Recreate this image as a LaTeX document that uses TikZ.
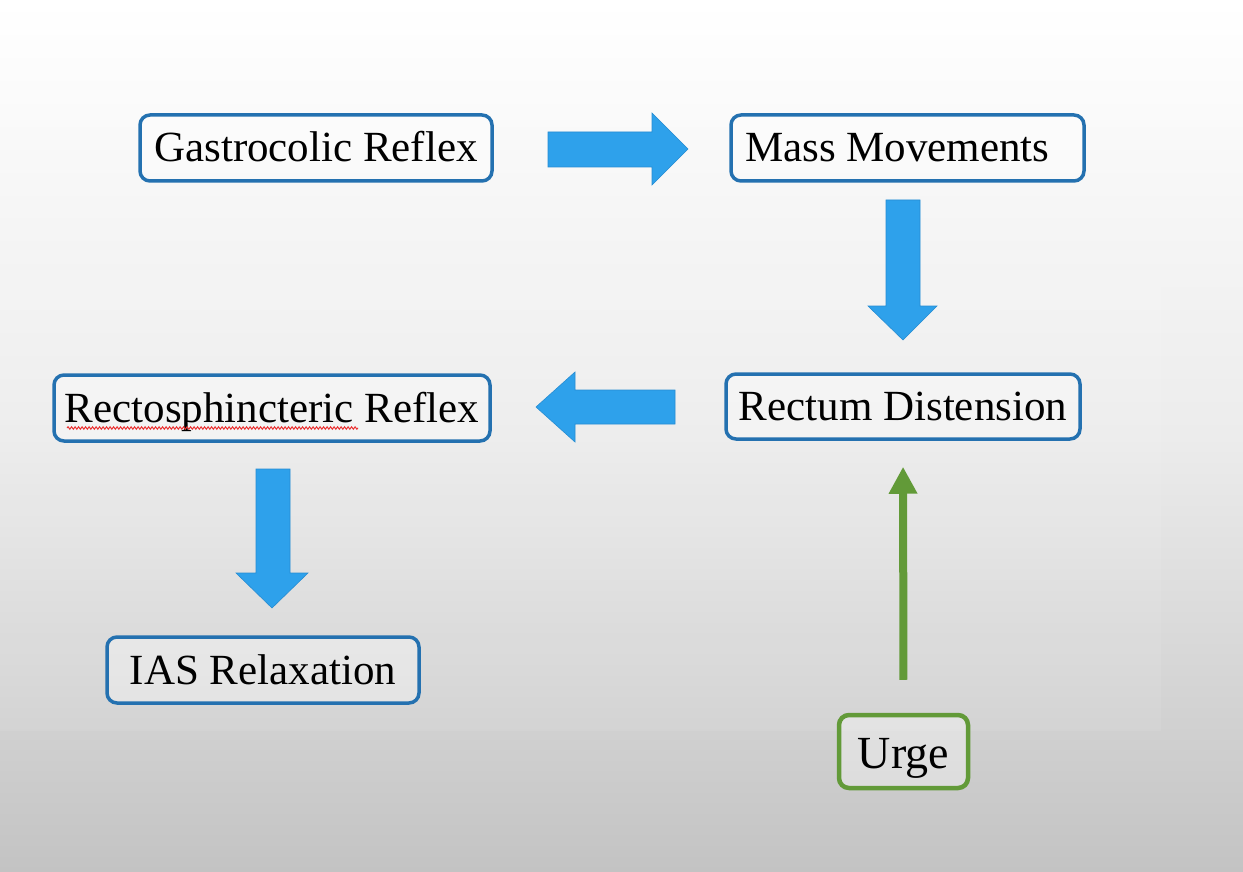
\documentclass[tikz,border=0pt]{standalone}
\usepackage{fontspec}
\setmainfont{Liberation Serif}
\usetikzlibrary{arrows.meta,decorations.pathmorphing}
\definecolor{boxblue}{RGB}{36,113,176}
\definecolor{arrowblue}{RGB}{46,161,235}
\definecolor{arrowedge}{RGB}{38,140,210}
\definecolor{urgegreen}{RGB}{98,154,56}
\definecolor{bgmid}{RGB}{236,236,236}
\definecolor{bgbot}{RGB}{195,195,195}
\definecolor{squig}{RGB}{235,50,50}
\begin{document}
\begin{tikzpicture}[x=1pt,y=-1pt,
  stepbox/.style={draw=boxblue, line width=3.5pt, rounded corners=10pt,
    fill=white, fill opacity=0.35, text opacity=1, inner sep=0pt,
    font=\fontsize{43}{50}\selectfont, minimum height=66pt,
    text height=35pt, text depth=7pt},
  urgebox/.style={stepbox, draw=urgegreen, line width=4.5pt, font=\fontsize{46}{52}\selectfont,
    text height=36pt, text depth=3pt},
  blockarrow/.style={fill=arrowblue, draw=arrowedge, line width=0.6pt, line join=miter},
  greenarrow/.style={draw=urgegreen, line width=8pt, -{Triangle[width=27pt,length=27pt]}}]
% background
\shade[top color=white, bottom color=bgmid, shading angle=0] (0,0) rectangle (1243,436);
\shade[top color=bgmid, bottom color=bgbot] (0,436) rectangle (1243,872);
\fill[white, opacity=0.08] (0,0) rectangle (1161,731);
\useasboundingbox (0,0) rectangle (1243,872);
% nodes
\node[stepbox, minimum width=352pt] (gastro) at (316,148) {Gastrocolic Reflex};
\node[stepbox, minimum width=353pt] (mass) at (907.5,148) {\makebox[325pt][l]{Mass Movements}};
\node[stepbox, minimum width=436pt] (recto) at (272,408) {Rectosphincteric Reflex};
\node[stepbox, minimum width=354pt, minimum height=65pt] (rect) at (903,406.5) {Rectum Distension};
\node[stepbox, minimum width=312pt] (ias) at (263,670) {IAS Relaxation};
\node[urgebox, minimum width=129pt, minimum height=73pt] (urge) at (903.5,751.5) {Urge};
% spellcheck squiggle
\draw[squig, line width=1pt, decorate, decoration={snake, amplitude=1.2pt, segment length=3.5pt}]
  (67,428) -- (358,428);
% block arrows
\draw[blockarrow] (548,132) -- (652,132) -- (652,113) -- (688,149) -- (652,185) -- (652,167) -- (548,167) -- cycle;
\draw[blockarrow] (886,200) -- (920,200) -- (920,306) -- (937,306) -- (903,340) -- (868,306) -- (886,306) -- cycle;
\draw[blockarrow] (675,390) -- (575,390) -- (575,372) -- (536,407) -- (575,442) -- (575,424) -- (675,424) -- cycle;
\draw[blockarrow] (256,469) -- (290,469) -- (290,573) -- (308,573) -- (272,608) -- (236,573) -- (256,573) -- cycle;
% green connector
\draw[greenarrow, shorten <=33pt, shorten >=26pt] (urge.north) -- (rect.south);
\end{tikzpicture}
\end{document}
